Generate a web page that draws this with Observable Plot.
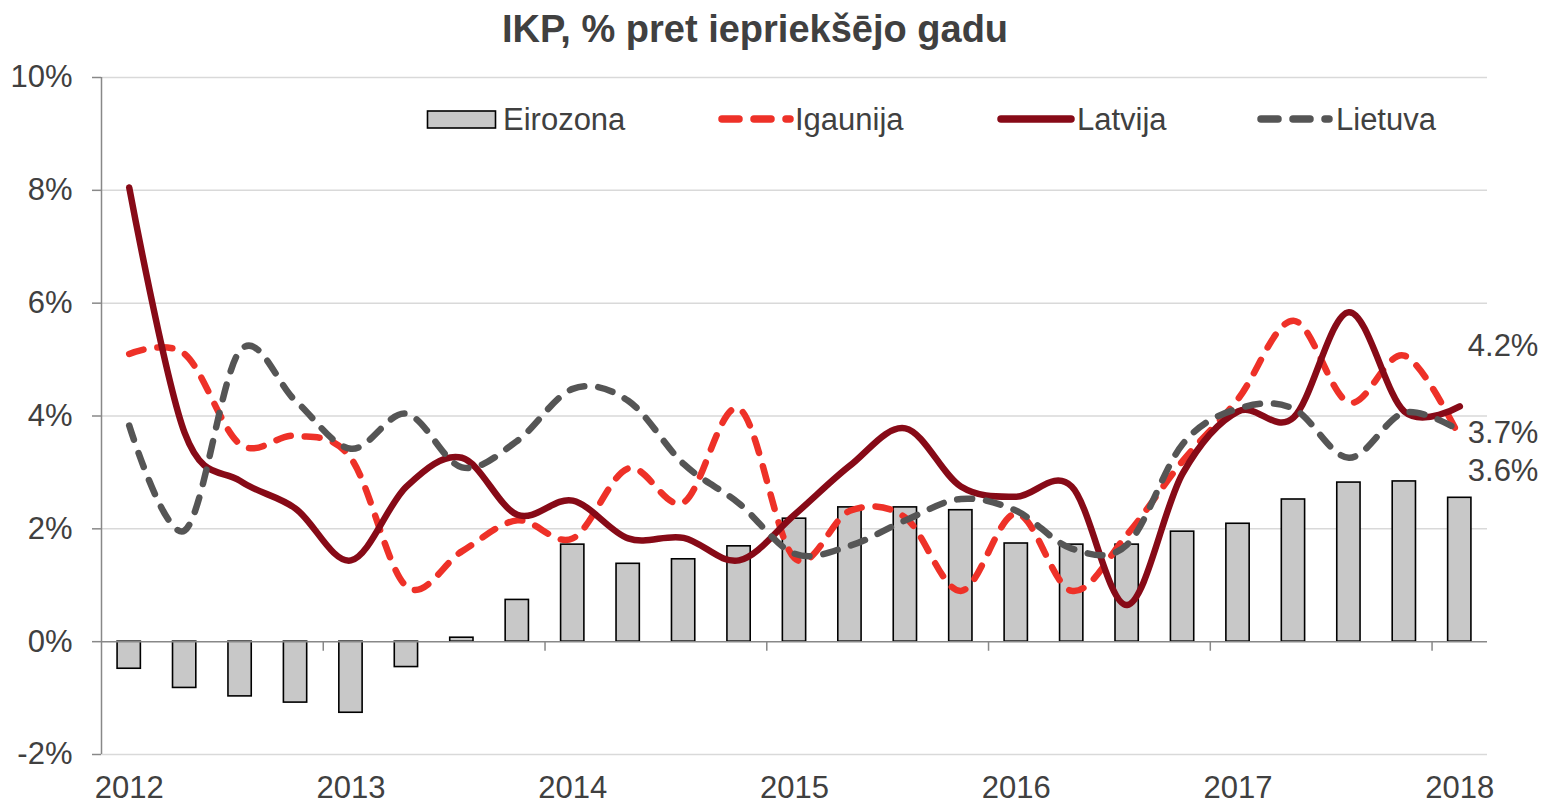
<!DOCTYPE html>
<html>
<head>
<meta charset="utf-8">
<script src="https://cdn.jsdelivr.net/npm/d3@7"></script>
<script src="https://cdn.jsdelivr.net/npm/@observablehq/plot@0.6"></script>
<style>
  body { margin: 0; background: #fff; font-family: "Liberation Sans", Arial, sans-serif; }
  #wrap { position: relative; width: 1543px; height: 805px; overflow: hidden; }
  #title { position: absolute; left: 0; top: 8px; width: 1510px; text-align: center;
           font-weight: bold; font-size: 38px; color: #404040; }
  #chart { position: absolute; left: 0; top: 55px; }
  #legend { position: absolute; left: 0; top: 0; }
  #legend text { font-family: "Liberation Sans", Arial, sans-serif; font-size: 31px; fill: #404040; }
</style>
</head>
<body>
<div id="wrap">
  <div id="title">IKP, % pret iepriekšējo gadu</div>
  <div id="chart"></div>
  <svg id="legend" width="1543" height="805"></svg>
</div>
<script>
// Quarters 2012Q1 .. 2018Q1
const quarters = ["2012Q1","2012Q2","2012Q3","2012Q4","2013Q1","2013Q2","2013Q3","2013Q4",
  "2014Q1","2014Q2","2014Q3","2014Q4","2015Q1","2015Q2","2015Q3","2015Q4",
  "2016Q1","2016Q2","2016Q3","2016Q4","2017Q1","2017Q2","2017Q3","2017Q4","2018Q1"];
const eirozona = [-0.48,-0.82,-0.97,-1.08,-1.26,-0.45,0.07,0.74,
  1.72,1.38,1.46,1.69,2.18,2.38,2.38,2.33,
  1.74,1.72,1.72,1.95,2.09,2.52,2.82,2.84,2.55];
const igaunija = [5.1,5.1,3.5,3.65,3.25,0.98,1.6,2.15,
  1.83,3.07,2.47,4.13,1.48,2.32,2.2,0.9,
  2.27,0.9,1.9,3.2,4.3,5.69,4.24,5.07,3.62];
const latvija = [8.05,3.7,2.85,2.36,1.44,2.75,3.26,2.25,
  2.5,1.83,1.84,1.44,2.25,3.12,3.78,2.75,
  2.57,2.75,0.65,2.98,4.08,3.97,5.84,4.08,4.17];
const lietuva = [3.83,1.97,5.16,4.27,3.42,4.04,3.09,3.56,
  4.48,4.27,3.15,2.45,1.56,1.7,2.15,2.53,
  2.32,1.65,1.72,3.5,4.13,4.13,3.26,4.06,3.74];
const yTicks = [-2, 0, 2, 4, 6, 8, 10];
const seriesNames = ["Eirozona", "Igaunija", "Latvija", "Lietuva"];

const colors = { ez: "#c8c8c8", ig: "#ee3128", lv: "#870a17", lt: "#555555" };
const textColor = "#404040";
const axisColor = "#888888";
const gridColor = "#d9d9d9";
const fs = 31;

const data = quarters.map((q, i) => ({
  i, q, ez: eirozona[i], ig: igaunija[i], lv: latvija[i], lt: lietuva[i]
}));
const yearIdx = data.filter(d => d.q.endsWith("Q1")).map(d => d.i);
const boundaries = yearIdx.slice(1).map(i => i - 0.5);
const last = data.slice(-1);
const half = 0.21;

const plot = Plot.plot({
  width: 1543,
  height: 750,
  marginTop: 22,
  marginBottom: 51,
  marginLeft: 101,
  marginRight: 56,
  style: { fontFamily: "Liberation Sans, Arial, sans-serif", fontSize: fs + "px", color: textColor, background: "transparent" },
  x: { type: "linear", domain: [-0.5, quarters.length - 0.5] },
  y: { domain: [-2, 10] },
  marks: [
    Plot.ruleY(yTicks.filter(v => v !== 0), { stroke: gridColor, strokeWidth: 1.5 }),
    Plot.rect(data, { x1: d => d.i - half, x2: d => d.i + half, y1: 0, y2: "ez",
      fill: colors.ez, stroke: "#000", strokeWidth: 1.6 }),
    Plot.ruleY([0], { stroke: axisColor, strokeWidth: 1.5 }),
    Plot.ruleX(boundaries, { y1: 0, y2: -0.17, stroke: axisColor, strokeWidth: 1.5 }),
    Plot.ruleX([-0.5], { y1: -2, y2: 10, stroke: axisColor, strokeWidth: 1.5 }),
    Plot.axisY({ ticks: yTicks, tickFormat: d => d + "%", tickSize: 9, tickPadding: 20,
      fontSize: fs, fill: textColor, stroke: axisColor, strokeWidth: 1.5, label: null }),
    Plot.axisX({ ticks: yearIdx, tickFormat: i => quarters[i].slice(0, 4), tickSize: 0,
      tickPadding: 21, fontSize: fs, fill: textColor, label: null }),
    Plot.line(data, { x: "i", y: "ig", stroke: colors.ig, strokeWidth: 6.5,
      strokeDasharray: "15,14", strokeLinecap: "round", curve: "cardinal" }),
    Plot.line(data, { x: "i", y: "lv", stroke: colors.lv, strokeWidth: 6.5,
      strokeLinecap: "round", curve: "cardinal" }),
    Plot.line(data, { x: "i", y: "lt", stroke: colors.lt, strokeWidth: 6.5,
      strokeDasharray: "15,14", strokeLinecap: "round", curve: "cardinal" }),
    Plot.text(last, { x: "i", y: "lv", text: d => d.lv.toFixed(1) + "%", dx: 8, dy: -60,
      textAnchor: "start", fontSize: fs, fill: textColor }),
    Plot.text(last, { x: "i", y: "lt", text: d => d.lt.toFixed(1) + "%", dx: 8, dy: 2,
      textAnchor: "start", fontSize: fs, fill: textColor }),
    Plot.text(last, { x: "i", y: "ig", text: d => d.ig.toFixed(1) + "%", dx: 8, dy: 34,
      textAnchor: "start", fontSize: fs, fill: textColor })
  ]
});
document.getElementById("chart").appendChild(plot);

// Legend (inside plot area, top)
const lg = d3.select("#legend");
const ly = 119;
// Eirozona
lg.append("rect").attr("x", 427.5).attr("y", 111).attr("width", 68).attr("height", 17)
  .attr("fill", colors.ez).attr("stroke", "#000").attr("stroke-width", 1.6);
lg.append("text").attr("x", 503).attr("y", ly).attr("dy", "0.35em").text(seriesNames[0]);
// Igaunija
lg.append("line").attr("x1", 722).attr("x2", 790).attr("y1", ly).attr("y2", ly)
  .attr("stroke", colors.ig).attr("stroke-width", 7.5).attr("stroke-linecap", "round")
  .attr("stroke-dasharray", "17,15");
lg.append("text").attr("x", 795).attr("y", ly).attr("dy", "0.35em").text(seriesNames[1]);
// Latvija
lg.append("line").attr("x1", 1001).attr("x2", 1071).attr("y1", ly).attr("y2", ly)
  .attr("stroke", colors.lv).attr("stroke-width", 7.5).attr("stroke-linecap", "round");
lg.append("text").attr("x", 1077).attr("y", ly).attr("dy", "0.35em").text(seriesNames[2]);
// Lietuva
lg.append("line").attr("x1", 1261).attr("x2", 1329).attr("y1", ly).attr("y2", ly)
  .attr("stroke", colors.lt).attr("stroke-width", 7.5).attr("stroke-linecap", "round")
  .attr("stroke-dasharray", "17,15");
lg.append("text").attr("x", 1336).attr("y", ly).attr("dy", "0.35em").text(seriesNames[3]);
</script>
</body>
</html>
